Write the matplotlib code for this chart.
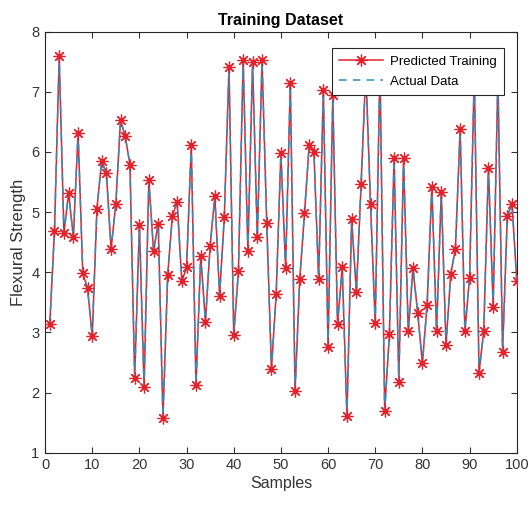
import matplotlib
matplotlib.use("Agg")
import matplotlib.pyplot as plt
from matplotlib.lines import Line2D

plt.rcParams['font.family'] = ['Liberation Sans', 'DejaVu Sans']

# Sample index and flexural strength values
samples = list(range(1, 101))
actual = [
    3.14, 4.69, 7.59, 4.65, 5.32, 4.58, 6.32, 3.98, 3.74, 2.94,
    5.06, 5.85, 5.65, 4.39, 5.13, 6.53, 6.26, 5.79, 2.25, 4.79,
    2.09, 5.53, 4.36, 4.81, 1.58, 3.96, 4.94, 5.17, 3.85, 4.08,
    6.12, 2.12, 4.27, 3.18, 4.44, 5.27, 3.61, 4.92, 7.41, 2.96,
    4.02, 7.53, 4.36, 7.49, 4.58, 7.53, 4.82, 2.39, 3.64, 5.98,
    4.07, 7.15, 2.03, 3.89, 4.98, 6.12, 6.00, 3.89, 7.03, 2.76,
    6.94, 3.14, 4.08, 1.61, 4.89, 3.67, 5.46, 7.35, 5.13, 3.15,
    7.45, 1.69, 2.97, 5.90, 2.18, 5.90, 3.02, 4.07, 3.32, 2.49,
    3.46, 5.42, 3.02, 5.34, 2.79, 3.97, 4.39, 6.39, 3.02, 3.91,
    7.30, 2.33, 3.02, 5.74, 3.42, 7.25, 2.68, 4.94, 5.14, 3.86,
]
predicted = list(actual)

xticks = list(range(0, 101, 10))
yticks = list(range(1, 9))

RED = '#e3222b'
BLUE = '#2f8cbf'
STAR = (8, 2, 0)

fig = plt.figure(figsize=(5.30, 5.09), dpi=100)
ax = fig.add_axes([0.085, 0.1106, 0.890, 0.8271])

# predicted line, actual dashed line on top, then the markers above both
ax.plot(samples, predicted, color=RED, linestyle='-', linewidth=1.1, zorder=3)
ax.plot(samples, actual, color=BLUE, linestyle='--', linewidth=1.1,
        dashes=(5, 4), zorder=4)
ax.plot(samples, predicted, linestyle='none', marker=STAR, markersize=8.5,
        markeredgewidth=0.9, markeredgecolor=RED, zorder=5)

ax.set_xlim(0, 100)
ax.set_ylim(1, 8)
ax.set_xticks(xticks)
ax.set_yticks(yticks)

ax.tick_params(direction='in', top=True, right=True, length=4, width=0.8,
               labelsize=10.5, colors='#333333', pad=4)
for s in ax.spines.values():
    s.set_color('#262626')
    s.set_linewidth(0.8)

ax.set_title('Training Dataset', fontsize=11.5, fontweight='bold', pad=5)
ax.set_xlabel('Samples', fontsize=11.5, color='#333333', labelpad=3)
ax.set_ylabel('Flexural Strength', fontsize=12, color='#333333', labelpad=4)

handles = [
    Line2D([], [], color=RED, linestyle='-', linewidth=1.1, marker=STAR,
           markersize=8.5, markeredgewidth=0.9, markeredgecolor=RED),
    Line2D([], [], color=BLUE, linestyle='--', linewidth=1.1, dashes=(5, 4)),
]
leg = ax.legend(handles, ['Predicted Training', 'Actual Data'],
                loc='upper right', bbox_to_anchor=(0.972, 0.961), fontsize=9.5,
                frameon=True, fancybox=False, edgecolor='#262626',
                framealpha=1.0, borderpad=0.55, handlelength=3.3,
                handletextpad=0.5, labelspacing=0.6, borderaxespad=0.0)
leg.get_frame().set_linewidth(0.8)
leg.set_zorder(10)

fig.savefig('out.png', dpi=100)
